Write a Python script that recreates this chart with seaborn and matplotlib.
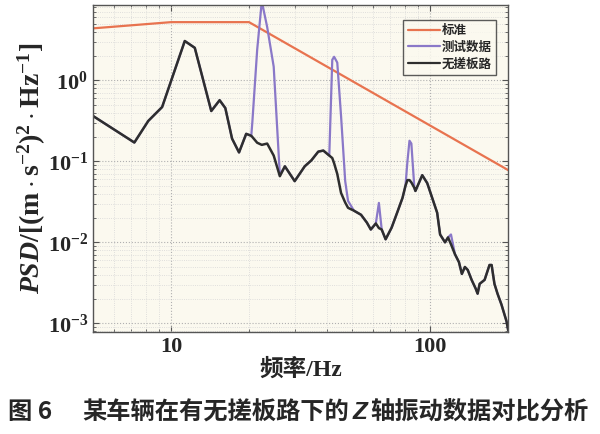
import seaborn as sns
import pandas as pd, numpy as np
import matplotlib.pyplot as plt
from matplotlib.ticker import LogLocator, NullFormatter

# 标准曲线
std_f = [5, 10, 20, 200]
std_psd = [4.4, 5.25, 5.25, 0.078]

# 测试数据 / 无搓板路 共用频率
freq = [5.0, 7.22, 8.17, 9.24, 11.3, 12.35, 14.3, 15.4, 16.2, 17.2, 18.3, 19.5,
        20.4, 20.6, 21.5, 22.4, 23.5, 24.9, 26.3, 27.5, 30.0, 32.8, 34.8, 37.0,
        38.7, 40.8, 41.9, 42.6, 43.8, 45.3, 47.0, 48.2, 50.8, 54.1, 57.0, 59.0,
        61.7, 63.4, 65.0, 67.3, 71.0, 74.8, 78.2, 80.3, 81.7, 83.2, 84.6, 86.9,
        87.7, 93.2, 97.4, 101.8, 106.4, 109.2, 114.1, 117.2, 120.3, 124.6, 129.1,
        132.5, 136.1, 139.6, 144.5, 149.9, 152.4, 155.2, 162.2, 169.4, 172.6,
        177.0, 181.9, 188.3, 197.0, 200.0]
no_wash = [0.364, 0.171, 0.316, 0.469, 3.07, 2.53, 0.419, 0.570, 0.456, 0.191, 0.129, 0.219,
           0.207, 0.20, 0.17, 0.16, 0.166, 0.118, 0.0656, 0.0869, 0.057, 0.0869, 0.103, 0.132,
           0.136, 0.118, 0.11, 0.0946, 0.07, 0.0407, 0.031, 0.0267, 0.0246, 0.0219, 0.0175, 0.0144,
           0.0171, 0.015, 0.0144, 0.0109, 0.0152, 0.0239, 0.0354, 0.05, 0.0587, 0.0587, 0.055, 0.047,
           0.0431, 0.0675, 0.0539, 0.0354, 0.0232, 0.0125, 0.0100, 0.0115, 0.00946, 0.00714, 0.0057,
           0.00407, 0.00496, 0.00456, 0.00344, 0.00267, 0.00232, 0.00307, 0.00344, 0.00525, 0.00525,
           0.00307, 0.00232, 0.00171, 0.00106, 0.00082]
test = [0.364, 0.171, 0.316, 0.469, 3.07, 2.53, 0.419, 0.570, 0.456, 0.191, 0.129, 0.219,
        0.207, 0.307, 2.39, 9.5, 4.56, 1.48, 0.0675, 0.0869, 0.057, 0.0869, 0.103, 0.132,
        0.136, 0.118, 1.80, 1.96, 1.66, 0.364, 0.057, 0.0325, 0.0246, 0.0219, 0.0175, 0.0144,
        0.0171, 0.0307, 0.0144, 0.0109, 0.0152, 0.0239, 0.0354, 0.05, 0.10, 0.180, 0.166, 0.0469,
        0.0431, 0.0675, 0.0539, 0.0354, 0.0232, 0.0125, 0.0100, 0.0115, 0.0125, 0.00714, 0.0057,
        0.00407, 0.00496, 0.00456, 0.00344, 0.00267, 0.00232, 0.00307, 0.00344, 0.00525, 0.00525,
        0.00307, 0.00232, 0.00171, 0.00106, 0.00082]

names = ["标准", "测试数据", "无搓板路"]
df = pd.concat([
    pd.DataFrame({"f": std_f, "psd": std_psd, "s": names[0]}),
    pd.DataFrame({"f": freq, "psd": test, "s": names[1]}),
    pd.DataFrame({"f": freq, "psd": no_wash, "s": names[2]}),
])

sns.set_style("ticks")
plt.rcParams['font.family'] = ['Liberation Serif', 'Noto Sans CJK SC']
plt.rcParams['font.weight'] = 'bold'
plt.rcParams['mathtext.fontset'] = 'custom'
plt.rcParams['mathtext.rm'] = 'Liberation Serif:bold'
plt.rcParams['mathtext.it'] = 'Liberation Serif:italic:bold'
plt.rcParams['mathtext.bf'] = 'Liberation Serif:bold'

fig = plt.figure(figsize=(6.0, 4.34), dpi=100)
ax = fig.add_axes([0.155, 0.235, 0.692, 0.753])
ax.set_facecolor("#fbf9ef")

pal = {names[0]: "#e8734f", names[1]: "#8a78c8", names[2]: "#2e2e2e"}
sns.lineplot(data=df, x="f", y="psd", hue="s", hue_order=names, palette=pal,
             estimator=None, sort=False, ax=ax, linewidth=1.6)
ax.lines[2].set_linewidth(1.8)

ax.set(xscale="log", yscale="log")
ax.set_xlim(5, 200)
ax.set_ylim(7.8e-4, 8.5)
ax.set_xticks([10, 100], labels=["10", "100"])
ax.yaxis.set_major_locator(LogLocator(base=10, numticks=10))
ax.xaxis.set_minor_locator(LogLocator(base=10, subs=np.arange(2, 10), numticks=20))
ax.xaxis.set_minor_formatter(NullFormatter())
ax.yaxis.set_minor_locator(LogLocator(base=10, subs=np.arange(2, 10), numticks=20))
ax.grid(which="major", ls=":", color="#b0b0b0", lw=0.8)
ax.grid(which="minor", ls=":", color="#d6d6d6", lw=0.6)
ax.tick_params(which="both", direction="in", top=True, right=True, labelsize=16, color="#555555")
ax.tick_params(which="major", length=4)
ax.tick_params(which="minor", length=2)
for sp in ax.spines.values():
    sp.set_color("#555555")
    sp.set_linewidth(1.0)

ax.set_xlabel("频率/Hz", fontsize=17, fontweight="heavy", labelpad=1)
ax.set_ylabel(r"$PSD/[(\mathrm{m}\cdot\mathrm{s}^{-2})^{2}\cdot\mathrm{Hz}^{-1}]$", fontsize=20, labelpad=0)

leg = ax.legend(loc="upper right", frameon=True, fancybox=False,
                handlelength=2.6, handletextpad=0.1, borderpad=0.35, labelspacing=0.3,
                bbox_to_anchor=(0.985, 0.975),
                prop={"family": ["Noto Sans CJK SC"], "weight": "bold", "size": 9})
leg.get_frame().set_edgecolor("#333333")
leg.get_frame().set_linewidth(1.0)
leg.get_frame().set_facecolor("#fbf9ef")

cap_kw = dict(fontsize=17.5, fontweight="bold", family=["Noto Sans CJK SC"], va="center")
fig.text(8 / 600, 0.05, "图 6", **cap_kw)
part1 = "某车辆在有无搓板路下的"
part2 = "轴振动数据对比分析"
fig.text(82 / 600, 0.05, part1, **cap_kw)
fig.text(353 / 600, 0.05, "Z", fontsize=17.5, fontweight="bold", style="italic",
         family=["Liberation Sans"], va="center")
fig.text(370 / 600, 0.05, part2, **cap_kw)

fig.savefig("out.png", dpi=100)
